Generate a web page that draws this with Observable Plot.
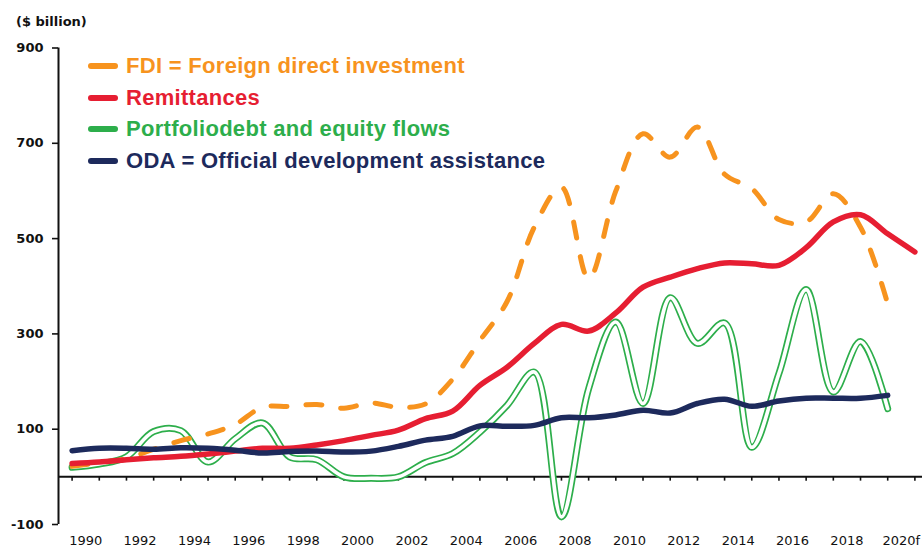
<!DOCTYPE html>
<html><head><meta charset="utf-8">
<script src="https://cdn.jsdelivr.net/npm/d3@7"></script>
<script src="https://cdn.jsdelivr.net/npm/@observablehq/plot@0.6"></script>
<style>
body{margin:0;background:#fff;}
#wrap{position:relative;width:922px;height:547px;overflow:hidden;background:#fff;}
#unit{position:absolute;left:16px;top:14px;font:bold 13px "DejaVu Sans";color:#111;white-space:nowrap;}
#legend{position:absolute;left:88px;top:50px;font-family:"Liberation Sans",Arial,sans-serif;font-weight:bold;font-size:22px;letter-spacing:0.3px;white-space:nowrap;}
.row{display:flex;align-items:center;height:31.7px;}
.sw{width:30px;height:6px;border-radius:3px;margin-right:8px;flex:none;}
#chart{position:absolute;left:0;top:0;}
</style></head><body>
<div id="wrap"><div id="chart"></div><div id="unit">($ billion)</div><div id="legend"></div></div>
<script>
// ---- data ($ billion) ----
const years = d3.range(1990, 2022); // 1990 … 2021
const fdi = [22, 30, 38, 58, 76, 90, 110, 146, 148, 152, 144, 155, 146, 153, 205, 286, 368, 524, 608, 416, 600, 720, 671, 734, 635, 605, 540, 535, 594, 524, 363];
const remittances = [28, 31, 36, 40, 43, 48, 54, 60, 60, 67, 76, 87, 98, 122, 138, 192, 230, 280, 320, 306, 344, 398, 419, 437, 449, 447, 444, 481, 535, 550, 510, 472];
const portfolio = [20, 27, 42, 95, 97, 31, 80, 113, 42, 36, 0, -3, 0, 30, 49, 94, 150, 220, -84, 185, 325, 154, 376, 280, 323, 62, 217, 393, 178, 284, 143];
const oda = [55, 60, 60, 58, 61, 60, 56, 50, 53, 54, 52, 54, 64, 77, 85, 107, 106, 108, 124, 124, 130, 140, 134, 154, 163, 148, 159, 165, 165, 165, 171];
const yTicks = [-100, 100, 300, 500, 700, 900];
const xLabelYears = [1990, 1992, 1994, 1996, 1998, 2000, 2002, 2004, 2006, 2008, 2010, 2012, 2014, 2016, 2018, 2020];
const xLabels = ["1990", "1992", "1994", "1996", "1998", "2000", "2002", "2004", "2006", "2008", "2010", "2012", "2014", "2016", "2018", "2020f"];
const seriesNames = ["FDI = Foreign direct investment", "Remittances", "Portfoliodebt and equity flows", "ODA = Official development assistance"];
const seriesColors = ["#F7931E", "#E61E32", "#2DAE4B", "#1D2A5C"];

const toRows = (vals) => vals.map((v, i) => ({year: years[i], value: v}));
const xDomain = [1989.5, 2021.28];
const curve = "catmull-rom";

const chart = Plot.plot({
  width: 922,
  height: 547,
  marginLeft: 58,
  marginRight: 0,
  marginTop: 47.5,
  marginBottom: 23,
  style: {fontFamily: "DejaVu Sans", fontSize: "13px", color: "#111", background: "transparent"},
  x: {domain: xDomain},
  y: {domain: [-100, 900]},
  marks: [
    Plot.axisY({ticks: yTicks, tickFormat: d => String(d), tickSize: 6, tickPadding: 9, fontWeight: "bold", fontSize: 13, strokeWidth: 1.6, label: null}),
    Plot.axisX({ticks: xLabelYears.map(y => y + 0.5), tickFormat: d => xLabels[xLabelYears.indexOf(Math.round(d - 0.5))], tickSize: 0, tickPadding: 11, fontSize: 13, label: null}),
    Plot.ruleX([xDomain[0]], {y1: -100, y2: 900, strokeWidth: 2, stroke: "#111"}),
    Plot.ruleY([0], {strokeWidth: 2, stroke: "#111"}),
    Plot.ruleX(years, {x: d => d, y1: 0, y2: -9, strokeWidth: 1.6, stroke: "#111"}),
    Plot.line(toRows(portfolio), {x: "year", y: "value", curve, stroke: seriesColors[2], strokeWidth: 7, strokeLinecap: "round"}),
    Plot.line(toRows(portfolio), {x: "year", y: "value", curve, stroke: "white", strokeWidth: 3.6, strokeLinecap: "round"}),
    Plot.line(toRows(fdi), {x: "year", y: "value", curve, stroke: seriesColors[0], strokeWidth: 5, strokeDasharray: "16,19", strokeLinecap: "round"}),
    Plot.line(toRows(remittances), {x: "year", y: "value", curve, stroke: seriesColors[1], strokeWidth: 5.5, strokeLinecap: "round"}),
    Plot.line(toRows(oda), {x: "year", y: "value", curve, stroke: seriesColors[3], strokeWidth: 5.5, strokeLinecap: "round"})
  ]
});
document.getElementById("chart").appendChild(chart);

const legend = document.getElementById("legend");
seriesNames.forEach((name, i) => {
  const row = document.createElement("div");
  row.className = "row";
  const sw = document.createElement("span");
  sw.className = "sw";
  sw.style.background = seriesColors[i];
  const t = document.createElement("span");
  t.textContent = name;
  t.style.color = seriesColors[i];
  row.appendChild(sw); row.appendChild(t);
  legend.appendChild(row);
});
</script>
</body></html>
